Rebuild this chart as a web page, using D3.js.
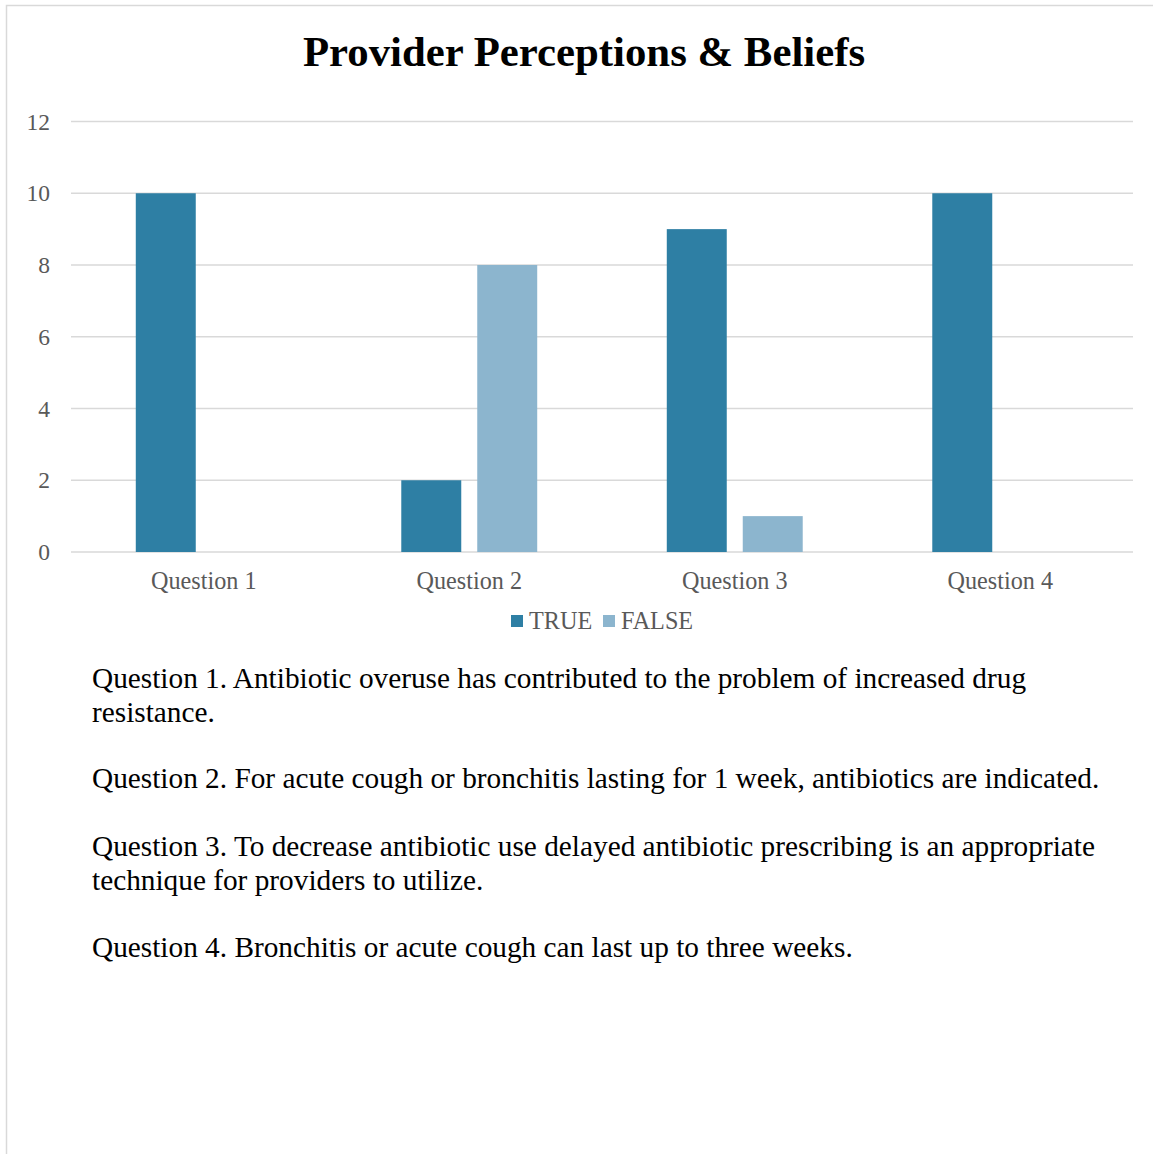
<!DOCTYPE html>
<html>
<head>
<meta charset="utf-8">
<script src="https://cdn.jsdelivr.net/npm/d3@7"></script>
<style>
  body { margin: 0; background: #fff; }
  svg { display: block; }
</style>
</head>
<body>
<svg id="chart"></svg>
<script>
const categories = ["Question 1", "Question 2", "Question 3", "Question 4"];
const seriesNames = ["TRUE", "FALSE"];
const trueValues = [10, 2, 9, 10];
const falseValues = [0, 8, 1, 0];
const yTicks = [0, 2, 4, 6, 8, 10, 12];
const notes = [
  ["Question 1. Antibiotic overuse has contributed to the problem of increased drug", "resistance."],
  ["Question 2. For acute cough or bronchitis lasting for 1 week, antibiotics are indicated."],
  ["Question 3. To decrease antibiotic use delayed antibiotic prescribing is an appropriate", "technique for providers to utilize."],
  ["Question 4. Bronchitis or acute cough can last up to three weeks."]
];

const width = 1153, height = 1154;
const colors = { TRUE: "#2e7fa4", FALSE: "#8cb5ce" };
const font = "'Liberation Serif', 'Times New Roman', serif";

const svg = d3.select("#chart").attr("width", width).attr("height", height);

// outer frame (right / bottom edges run off the page)
svg.append("rect")
  .attr("x", 6.5).attr("y", 5.5)
  .attr("width", 1170).attr("height", 1170)
  .attr("fill", "none").attr("stroke", "#d9d9d9").attr("stroke-width", 1.5);

svg.append("text")
  .attr("x", 584).attr("y", 66)
  .attr("text-anchor", "middle")
  .attr("font-family", font).attr("font-weight", "bold").attr("font-size", 42.8)
  .text("Provider Perceptions & Beliefs");

const plot = { left: 71, right: 1133, top: 121.5, bottom: 552 };

const x = d3.scaleBand().domain(categories).range([plot.left, plot.right])
  .paddingInner(0.488).paddingOuter(0.244);
const xs = d3.scaleBand().domain(seriesNames).range([0, x.bandwidth()]).paddingInner(0.2105);
const y = d3.scaleLinear().domain([0, 12]).range([plot.bottom, plot.top]);

// gridlines
svg.append("g")
  .selectAll("line")
  .data(yTicks)
  .join("line")
  .attr("x1", plot.left).attr("x2", plot.right)
  .attr("y1", d => y(d)).attr("y2", d => y(d))
  .attr("stroke", "#d9d9d9").attr("stroke-width", 1.5);

// y tick labels
svg.append("g")
  .selectAll("text")
  .data(yTicks)
  .join("text")
  .attr("x", 50).attr("y", d => y(d))
  .attr("dy", "0.35em")
  .attr("text-anchor", "end")
  .attr("font-family", font).attr("font-size", 23.5).attr("fill", "#595959")
  .text(d => d);

// bars
const rows = categories.map((c, i) => ({ cat: c, TRUE: trueValues[i], FALSE: falseValues[i] }));
svg.append("g")
  .selectAll("g")
  .data(rows)
  .join("g")
  .attr("transform", d => `translate(${x(d.cat)},0)`)
  .selectAll("rect")
  .data(d => seriesNames.map(s => ({ key: s, value: d[s] })))
  .join("rect")
  .attr("x", d => xs(d.key))
  .attr("y", d => y(d.value))
  .attr("width", xs.bandwidth())
  .attr("height", d => y(0) - y(d.value))
  .attr("fill", d => colors[d.key]);

// category labels
svg.append("g")
  .selectAll("text")
  .data(categories)
  .join("text")
  .attr("x", d => x(d) + x.bandwidth() / 2)
  .attr("y", 589)
  .attr("text-anchor", "middle")
  .attr("font-family", font).attr("font-size", 24.2).attr("fill", "#595959")
  .text(d => d);

// legend
const legend = svg.append("g").attr("transform", "translate(511,0)");
const legendX = { TRUE: 0, FALSE: 92 };
seriesNames.forEach(s => {
  legend.append("rect")
    .attr("x", legendX[s]).attr("y", 615)
    .attr("width", 12).attr("height", 12)
    .attr("fill", colors[s]);
  legend.append("text")
    .attr("x", legendX[s] + 18).attr("y", 629)
    .attr("font-family", font).attr("font-size", 24.2).attr("fill", "#595959")
    .text(s);
});

// question notes
const noteTop = [688, 788, 856, 957];
notes.forEach((lines, i) => {
  svg.append("text")
    .attr("x", 92).attr("y", noteTop[i])
    .attr("font-family", font).attr("font-size", 29.3).attr("fill", "#000")
    .selectAll("tspan")
    .data(lines)
    .join("tspan")
    .attr("x", 92)
    .attr("dy", (d, j) => j === 0 ? 0 : 34)
    .text(d => d);
});
</script>
</body>
</html>
